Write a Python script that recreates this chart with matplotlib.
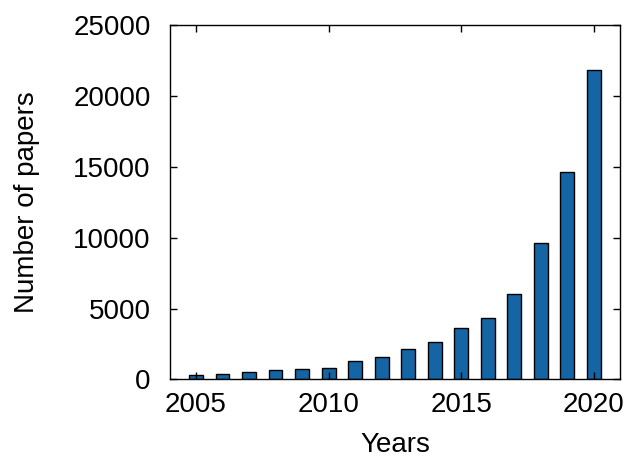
import matplotlib

matplotlib.use("Agg")

import matplotlib.pyplot as plt

years = [2005, 2006, 2007, 2008, 2009, 2010, 2011, 2012,
         2013, 2014, 2015, 2016, 2017, 2018, 2019, 2020]
papers = [330, 400, 540, 640, 710, 830, 1260, 1610,
          2110, 2660, 3610, 4360, 6015, 9625, 14620, 21850]
x_ticks = [2005, 2010, 2015, 2020]
y_ticks = [0, 5000, 10000, 15000, 20000, 25000]

plt.rcParams["font.family"] = ["Liberation Sans", "DejaVu Sans"]

fig = plt.figure(figsize=(6.29, 4.59), dpi=100)
ax = fig.add_axes([0.2703, 0.1736, 0.7159, 0.7713])

ax.bar(years, papers, width=0.52, color="#1565a5", edgecolor="black", linewidth=1.0)

ax.set_xlim(2004.02, 2021)
ax.set_ylim(0, 25000)
ax.set_xticks(x_ticks)
ax.set_yticks(y_ticks)
ax.tick_params(direction="in", top=True, right=True, length=5, width=1,
               labelsize=20)
ax.tick_params(axis="x", pad=9)
ax.tick_params(axis="y", pad=14)
for s in ax.spines.values():
    s.set_linewidth(1.0)

ax.set_xlabel("Years", fontsize=20, labelpad=10)
ax.set_ylabel("Number of papers", fontsize=20, labelpad=24)

fig.savefig("out.png", dpi=100)
